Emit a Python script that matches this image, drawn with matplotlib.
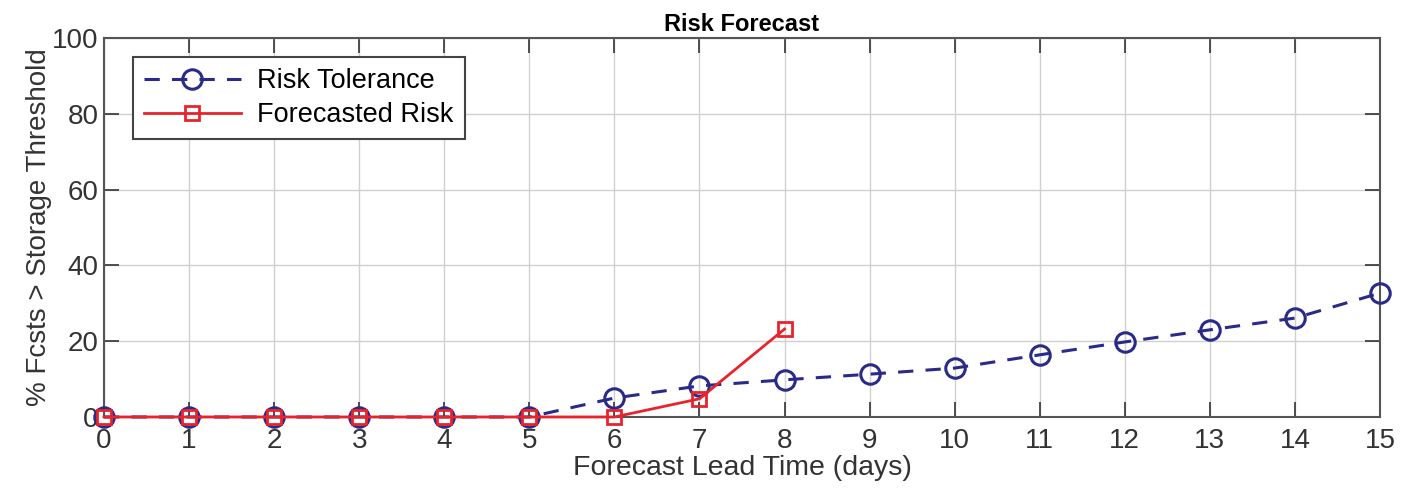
import matplotlib
matplotlib.use("Agg")
import matplotlib.pyplot as plt

plt.rcParams['font.family'] = ['Liberation Sans', 'DejaVu Sans']

# lead times (days) and the two series
lead_days = list(range(16))
risk_tolerance = [0, 0, 0, 0, 0, 0, 5.0, 8.2, 9.8, 11.3, 12.9, 16.4, 19.8, 23.0, 26.1, 32.7]
forecast_days = list(range(9))
forecasted_risk = [0, 0, 0, 0, 0, 0, 0, 4.8, 23.2]

fig = plt.figure(figsize=(14.19, 4.95), dpi=100)
ax = fig.add_axes([0.0733, 0.1576, 0.8992, 0.7656])

ax.plot(lead_days, risk_tolerance, '--o', color='#2a2a8a', lw=2.2, ms=14,
        mfc='none', mew=2.2, dashes=(5, 4), label='Risk Tolerance', clip_on=False, zorder=3)
ax.plot(forecast_days, forecasted_risk, '-s', color='#e8232b', lw=2.0, ms=10,
        mfc='none', mew=2.0, label='Forecasted Risk', clip_on=False, zorder=4)

ax.set_xlim(0, 15)
ax.set_ylim(0, 100)
ax.set_xticks(range(16))
ax.set_yticks(range(0, 101, 20))
ax.tick_params(direction='in', length=11, width=1.2, labelsize=20, colors='#333333',
               top=True, right=True)
ax.tick_params(axis='x', pad=8)
ax.tick_params(axis='y', pad=4)
ax.grid(True, color='#d0d0d0', lw=1.0)
for s in ax.spines.values():
    s.set_color('#555555')
    s.set_linewidth(1.5)

ax.set_title('Risk Forecast', fontsize=17, fontweight='bold', pad=5)
ax.set_xlabel('Forecast Lead Time (days)', fontsize=20.5, color='#333333', labelpad=1)
ax.set_ylabel('% Fcsts > Storage Threshold', fontsize=20, color='#333333', labelpad=0)

leg = ax.legend(loc='upper left', bbox_to_anchor=(0.012, 0.985), fontsize=19.5,
                fancybox=False, framealpha=1, edgecolor='#444444', handlelength=3.6,
                borderpad=0.4, labelspacing=0.3, handletextpad=0.6)
leg.get_frame().set_linewidth(1.5)

fig.savefig('out.png', dpi=100)
